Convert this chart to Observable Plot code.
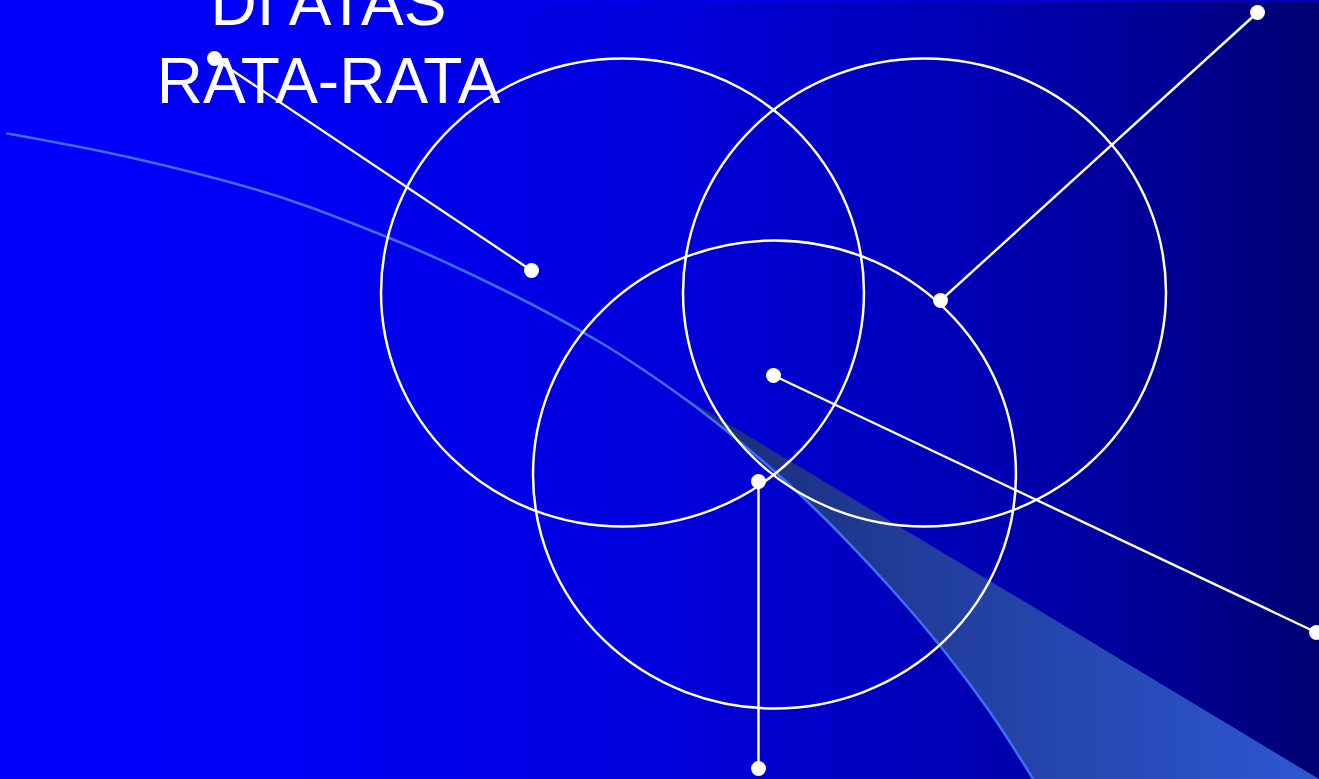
<!DOCTYPE html>
<html>
<head>
<meta charset="utf-8">
<script src="https://cdn.jsdelivr.net/npm/d3@7"></script>
<script src="https://cdn.jsdelivr.net/npm/@observablehq/plot@0.6"></script>
<style>
  html, body { margin: 0; padding: 0; background: #0000ff; overflow: hidden; }
  #chart svg { display: block; }
</style>
</head>
<body>
<div id="chart"></div>
<script>
// Title lines (top-left, partly cut off by the top edge as in the source)
const titleLines = ["DI ATAS", "RATA-RATA"];
const titleX = [328, 328];
const titleY = [24, 102];

// Three overlapping circles (centres)
const circleCx = [622, 924, 774];
const circleCy = [292, 292, 474];

// Pin connectors: start point -> end point
const pinX1 = [214, 1257, 773, 758];
const pinY1 = [58, 12, 375, 481];
const pinX2 = [531, 940, 1316, 758];
const pinY2 = [270, 300, 632, 768];

// Light-blue sweeping arc
const arcX = [7, 97, 227, 390, 500, 600, 677, 773, 887, 987, 1033];
const arcY = [133, 150, 181, 238, 288, 342, 393, 470, 584, 708, 779];

// Shaded wedge: left edge follows the arc, right edge is a straight line
const wedgeY      = [393, 470, 584, 708, 779];
const wedgeLeftX  = [677, 773, 887, 987, 1033];
const wedgeRightX = [677, 805, 995, 1201, 1319];

const W = 1319, H = 779;

const circles = circleCx.map((x, i) => ({x, y: circleCy[i]}));
const pins = pinX1.map((x1, i) => ({x1, y1: pinY1[i], x2: pinX2[i], y2: pinY2[i]}));
const pinDots = pins.flatMap(p => [{x: p.x1, y: p.y1}, {x: p.x2, y: p.y2}]);
const arc = arcX.map((x, i) => ({x, y: arcY[i]}));
const wedge = wedgeY.map((y, i) => ({y, x1: wedgeLeftX[i], x2: wedgeRightX[i]}));
const titles = titleLines.map((t, i) => ({t, x: titleX[i], y: titleY[i]}));

const font = "'Liberation Sans', Arial, Helvetica, sans-serif";

const plot = Plot.plot({
  width: W,
  height: H,
  margin: 0,
  x: {domain: [0, W], range: [0, W], axis: null},
  y: {domain: [0, H], range: [0, H], axis: null},
  style: {overflow: "hidden", background: "#0000ff"},
  marks: [
    Plot.frame({fill: "url(#bgGrad)", stroke: "none"}),
    Plot.areaX(wedge, {y: "y", x1: "x1", x2: "x2", fill: "url(#wedgeGrad)", curve: "monotone-y"}),
    Plot.line(arc, {x: "x", y: "y", stroke: "#3d6ef5", strokeWidth: 2.6, curve: "monotone-y"}),
    Plot.text(titles, {x: "x", y: "y", text: "t", fill: "white", fontSize: 64, fontFamily: font, textAnchor: "middle", lineAnchor: "bottom"}),
    Plot.dot(circles, {x: "x", y: "y", r: 234, stroke: "white", strokeWidth: 2.5, fill: "none"}),
    Plot.link(pins, {x1: "x1", y1: "y1", x2: "x2", y2: "y2", stroke: "white", strokeWidth: 2.4}),
    Plot.dot(pinDots, {x: "x", y: "y", r: 7.5, fill: "white", stroke: "none"})
  ]
});

// gradients
const svg = d3.select(plot);
const defs = svg.insert("defs", ":first-child");
const bg = defs.append("linearGradient").attr("id", "bgGrad")
  .attr("gradientUnits", "userSpaceOnUse").attr("x1", 0).attr("y1", 0).attr("x2", W).attr("y2", 0);
[[0, "#0000ff"], [0.2, "#0000f8"], [0.5, "#0000dc"], [0.75, "#0000b2"], [0.9, "#000090"], [1, "#000072"]]
  .forEach(([o, c]) => bg.append("stop").attr("offset", o).attr("stop-color", c));
const wg = defs.append("linearGradient").attr("id", "wedgeGrad")
  .attr("gradientUnits", "userSpaceOnUse").attr("x1", 677).attr("y1", 0).attr("x2", W).attr("y2", 0);
[[0, "#1b2b76"], [0.45, "#2240a2"], [1, "#2e57d2"]]
  .forEach(([o, c]) => wg.append("stop").attr("offset", o).attr("stop-color", c));

// circles in the source are very slightly wider than tall
svg.selectAll("circle").filter(function () {
  const g = this.parentNode;
  const r = +(this.getAttribute("r") || (g && g.getAttribute("r")) || 0);
  return r > 100;
}).each(function () {
  const el = d3.select(this);
  const cx = this.getAttribute("cx"), cy = this.getAttribute("cy");
  if (cx != null && cy != null) {
    el.attr("transform", `translate(${cx},${cy}) scale(1.032,1) translate(${-cx},${-cy})`);
  } else {
    const t = this.getAttribute("transform") || "";
    el.attr("transform", `${t} scale(1.032,1)`);
  }
  el.attr("vector-effect", "non-scaling-stroke");
});

document.getElementById("chart").appendChild(plot);
</script>
</body>
</html>
